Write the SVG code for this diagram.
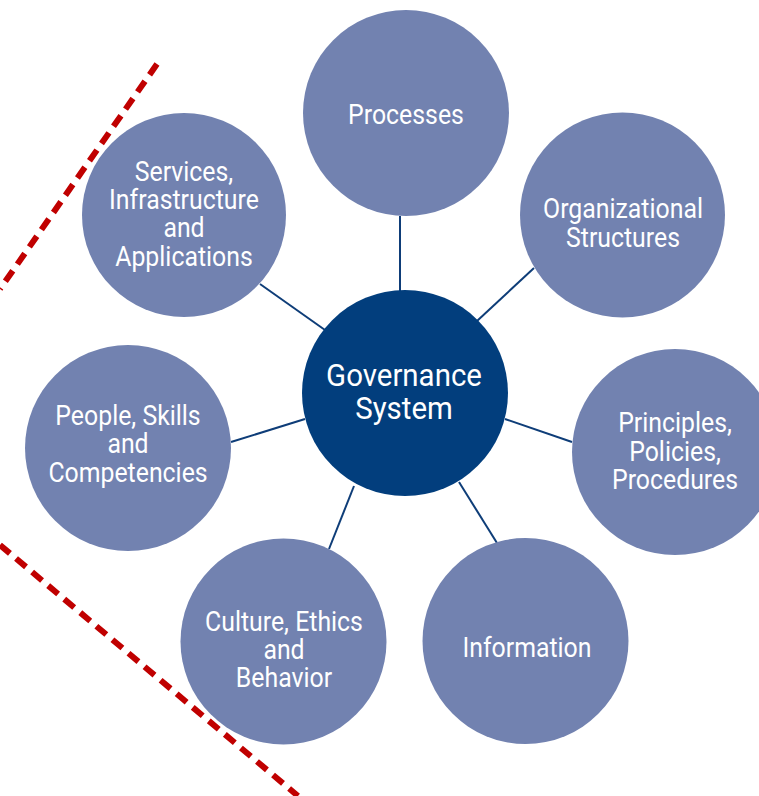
<svg xmlns="http://www.w3.org/2000/svg" width="759" height="796" viewBox="0 0 759 796">
<style>
.outer{fill:#7282B0}
.core{fill:#023E7D}
.lbl{font-family:Roboto,"Liberation Sans",sans-serif;font-size:27px;fill:#FFFFFF;text-anchor:middle}
.big{font-size:32px}
.conn line{stroke:#0E3D78;stroke-width:2}
.dash{stroke:#C00000;stroke-width:6;stroke-dasharray:13 8;fill:none}
</style>
<rect width="759" height="796" fill="#FFFFFF"/>
<line class="dash" x1="157" y1="64" x2="0" y2="289"/>
<line class="dash" x1="0" y1="545" x2="298" y2="796"/>
<g id="connectors" class="conn">
<line x1="400" y1="216" x2="400" y2="291"/>
<line x1="534" y1="268" x2="477" y2="321"/>
<line x1="572" y1="442" x2="505" y2="419"/>
<line x1="497" y1="543" x2="459" y2="482"/>
<line x1="329" y1="549" x2="354" y2="486"/>
<line x1="231" y1="442" x2="305" y2="419"/>
<line x1="260" y1="284" x2="325" y2="330"/>
</g>
<g id="processes">
<circle class="outer" cx="406" cy="113" r="103"/>
<g transform="translate(406 0) scale(0.92 1)"><text class="lbl" x="0" y="124">Processes</text></g>
</g>
<g id="organizational-structures">
<circle class="outer" cx="622.5" cy="215" r="102.5"/>
<g transform="translate(623 0) scale(0.92 1)"><text class="lbl" x="0" y="218">Organizational</text><text class="lbl" x="0" y="247">Structures</text></g>
</g>
<g id="principles">
<circle class="outer" cx="675" cy="452" r="103"/>
<g transform="translate(675 0) scale(0.92 1)"><text class="lbl" x="0" y="432">Principles,</text><text class="lbl" x="0" y="461">Policies,</text><text class="lbl" x="0" y="489">Procedures</text></g>
</g>
<g id="information">
<circle class="outer" cx="525.5" cy="641" r="103"/>
<g transform="translate(527 0) scale(0.92 1)"><text class="lbl" x="0" y="657">Information</text></g>
</g>
<g id="culture">
<circle class="outer" cx="283.5" cy="641.5" r="103"/>
<g transform="translate(284 0) scale(0.92 1)"><text class="lbl" x="0" y="631">Culture, Ethics</text><text class="lbl" x="0" y="659">and</text><text class="lbl" x="0" y="687">Behavior</text></g>
</g>
<g id="people">
<circle class="outer" cx="128" cy="448" r="103"/>
<g transform="translate(128 0) scale(0.92 1)"><text class="lbl" x="0" y="425">People, Skills</text><text class="lbl" x="0" y="453">and</text><text class="lbl" x="0" y="482">Competencies</text></g>
</g>
<g id="services">
<circle class="outer" cx="184" cy="215" r="102"/>
<g transform="translate(184 0) scale(0.92 1)"><text class="lbl" x="0" y="181">Services,</text><text class="lbl" x="0" y="209">Infrastructure</text><text class="lbl" x="0" y="237">and</text><text class="lbl" x="0" y="266">Applications</text></g>
</g>
<g id="governance-system">
<circle class="core" cx="405" cy="393" r="103"/>
<g transform="translate(404 0) scale(0.92 1)"><text class="lbl big" x="0" y="386">Governance</text><text class="lbl big" x="0" y="419">System</text></g>
</g>
</svg>
